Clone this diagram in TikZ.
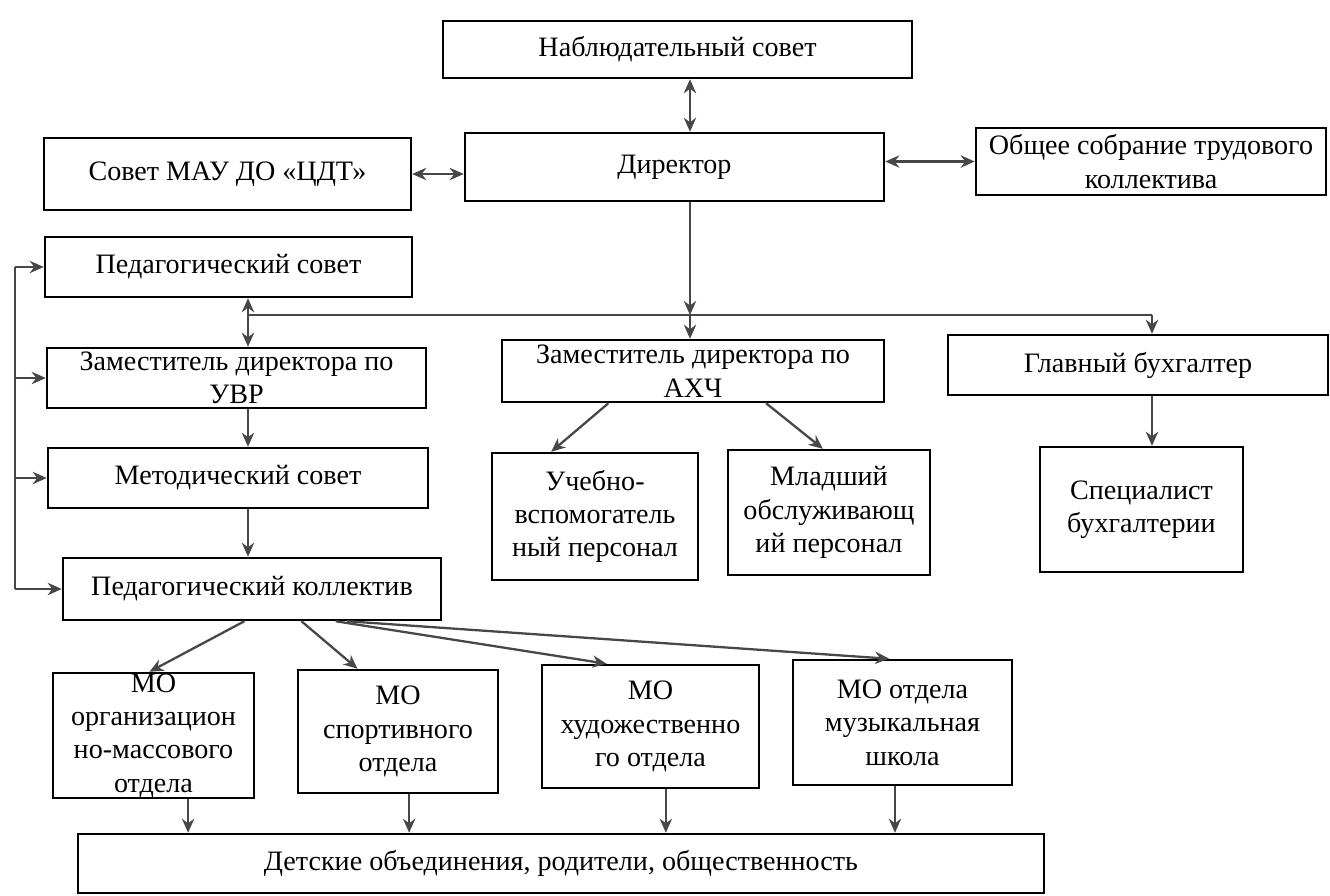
\documentclass[tikz,border=0pt]{standalone}
\usepackage{fontspec}
\setmainfont{Liberation Serif}
\usetikzlibrary{arrows.meta,calc}
\newcommand\mybox[6]{\node[box,minimum width={(#4-#2)*0.02cm},minimum height={(#5-#3)*0.02cm}] (#1) at ({(#2+#4)/2},{(#3+#5)/2}) {#6};}
\begin{document}
\begin{tikzpicture}[x=0.02cm,y=-0.02cm,
 box/.style={draw=black, line width=1.4pt, inner sep=0pt, align=center, font=\fontsize{16}{19}\selectfont},
 conn/.style={draw=black!72, line width=1.3pt},
 arr/.style={conn,-{Stealth[length=8pt,width=7pt]}},
 darr/.style={conn,{Stealth[length=8pt,width=7pt]}-{Stealth[length=8pt,width=7pt]}}]
\useasboundingbox (0,0) rectangle (1330,896);
\mybox{nab}{443}{21}{912}{78}{Наблюдательный совет}
\mybox{dir}{465}{133}{884}{201}{Директор}
\mybox{sov}{44}{138}{411}{210}{Совет МАУ ДО «ЦДТ»}
\mybox{obsh}{976}{128}{1326}{195}{Общее собрание трудового\\коллектива}
\mybox{psov}{45}{237}{412}{297}{Педагогический совет}
\mybox{uvr}{47}{348}{426}{408}{Заместитель директора по\\УВР}
\mybox{msov}{48}{448}{428}{508}{Методический совет}
\mybox{pkol}{63}{558}{441}{620}{Педагогический коллектив}
\mybox{axch}{502}{340}{884}{402}{Заместитель директора по\\АХЧ}
\mybox{uch}{492}{453}{698}{580}{Учебно-\\вспомогатель\\ный персонал}
\mybox{mlad}{728}{450}{930}{575}{Младший\\обслуживающ\\ий персонал}
\mybox{glav}{948}{335}{1328}{395}{Главный бухгалтер}
\mybox{spec}{1040}{447}{1243}{572}{Специалист\\бухгалтерии}
\mybox{mo1}{53}{673}{254}{798}{МО\\организацион\\но-массового\\отдела}
\mybox{mo2}{298}{670}{498}{793}{МО\\спортивного\\отдела}
\mybox{mo3}{542}{665}{759}{788}{МО\\художественно\\го отдела}
\mybox{mo4}{793}{660}{1012}{785}{МО отдела\\музыкальная\\школа}
\mybox{det}{78}{834}{1044}{893}{Детские объединения, родители, общественность}

\coordinate (fbx) at (15,0);
\coordinate (busL) at (248,315);
\coordinate (busM) at (690,315);
\coordinate (busR) at (1152,315);

\draw[darr] (nab.south -| busM) -- (dir.north -| busM);
\draw[darr] (sov.east) -- (sov.east -| dir.west);
\draw[darr] (obsh.west -| dir.east) -- (obsh.west);
\draw[arr] (dir.south -| busM) -- (busM);
\draw[arr] (busM) -- (axch.north -| busM);
\draw[conn] (busL) -- (busR);
\draw[arr] (busR) -- (glav.north -| busR);
\draw[darr] (psov.south -| busL) -- (uvr.north -| busL);
\draw[arr] (uvr.south -| busL) -- (msov.north -| busL);
\draw[arr] (msov.south -| busL) -- (pkol.north -| busL);

\draw[conn] (psov.west -| fbx) -- (pkol.west -| fbx);
\draw[arr] (psov.west -| fbx) -- (psov.west);
\draw[arr] (uvr.west -| fbx) -- (uvr.west);
\draw[arr] (msov.west -| fbx) -- (msov.west);
\draw[arr] (pkol.west -| fbx) -- (pkol.west);

\draw[arr] ($(axch.south west)!0.28!(axch.south east)$) -- ($(uch.north west)!0.29!(uch.north east)$);
\draw[arr] ($(axch.south west)!0.69!(axch.south east)$) -- ($(mlad.north west)!0.47!(mlad.north east)$);
\draw[arr] (glav.south -| busR) -- (spec.north -| busR);

\draw[arr] ($(pkol.south west)!0.48!(pkol.south east)$) -- ($(mo1.north west)!0.48!(mo1.north east)$);
\draw[arr] ($(pkol.south west)!0.63!(pkol.south east)$) -- ($(mo2.north west)!0.3!(mo2.north east)$);
\draw[arr] ($(pkol.south west)!0.72!(pkol.south east)$) -- ($(mo3.north west)!0.3!(mo3.north east)$);
\draw[arr] ($(pkol.south west)!0.75!(pkol.south east)$) -- ($(mo4.north west)!0.44!(mo4.north east)$);

\coordinate (m1) at ($(mo1.south west)!0.67!(mo1.south east)$);
\coordinate (m2) at ($(mo2.south west)!0.555!(mo2.south east)$);
\coordinate (m3) at ($(mo3.south west)!0.57!(mo3.south east)$);
\coordinate (m4) at ($(mo4.south west)!0.466!(mo4.south east)$);
\draw[arr] (m1) -- (m1 |- det.north);
\draw[arr] (m2) -- (m2 |- det.north);
\draw[arr] (m3) -- (m3 |- det.north);
\draw[arr] (m4) -- (m4 |- det.north);
\end{tikzpicture}
\end{document}
